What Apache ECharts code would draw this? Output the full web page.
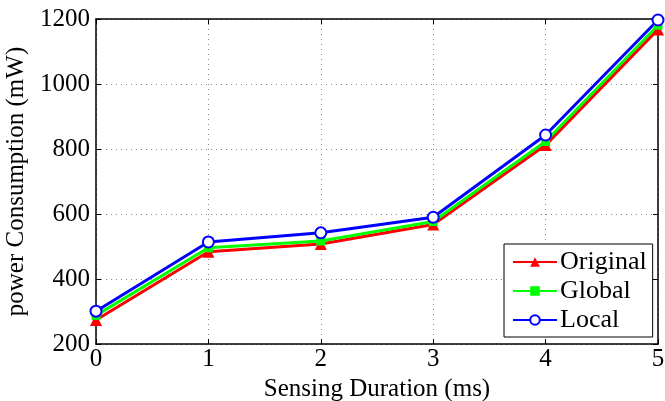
<!DOCTYPE html>
<html>
<head>
<meta charset="utf-8">
<script src="https://cdn.jsdelivr.net/npm/echarts@6/dist/echarts.min.js"></script>
<style>
  html, body { margin: 0; padding: 0; background: #fff; }
  #main { width: 665px; height: 401px; }
</style>
</head>
<body>
<div id="main"></div>
<script>
// sensing duration (ms)
var durations = [0, 1, 2, 3, 4, 5];
// power consumption (mW)
var original = [274, 484, 508, 568, 812, 1168];
var globalVals = [288, 496, 517, 577, 823, 1181];
var localVals = [301, 514, 542, 590, 843, 1197];

var font = 'Liberation Serif';

function pairs(vals) {
	return durations.map(function(d, i) { return [d, vals[i]]; });
}

var chart = echarts.init(document.getElementById('main'));

var gridLine = { show: true, lineStyle: { color: '#888', type: [1, 4], width: 1 } };

chart.setOption({
	animation: false,
	grid: { left: 96, right: 7, top: 19, bottom: 57, outerBoundsMode: 'none', containLabel: false },
	xAxis: [{
		type: 'value', min: 0, max: 5, interval: 1,
		name: 'Sensing Duration (ms)', nameLocation: 'middle', nameGap: 29,
		nameTextStyle: { fontFamily: font, fontSize: 25, color: '#000' },
		axisLine: { lineStyle: { color: '#000', width: 1.5 } },
		axisTick: { inside: true, length: 5, lineStyle: { color: '#000' } },
		axisLabel: { fontFamily: font, fontSize: 25, color: '#000', margin: 3 },
		splitLine: gridLine
	}, {
		type: 'value', min: 0, max: 5, interval: 1, position: 'top',
		axisLine: { onZero: false, lineStyle: { color: '#000', width: 1.5 } },
		axisTick: { inside: true, length: 5, lineStyle: { color: '#000' } },
		axisLabel: { show: false }, splitLine: { show: false }
	}],
	yAxis: [{
		type: 'value', min: 200, max: 1200, interval: 200,
		name: 'power Consumption (mW)', nameLocation: 'middle', nameGap: 61,
		nameTextStyle: { fontFamily: font, fontSize: 25, color: '#000' },
		axisLine: { show: true, lineStyle: { color: '#000', width: 1.5 } },
		axisTick: { show: true, inside: true, length: 5, lineStyle: { color: '#000' } },
		axisLabel: { fontFamily: font, fontSize: 25, color: '#000', margin: 6,
			formatter: function(v) { return String(v); } },
		splitLine: gridLine
	}, {
		type: 'value', min: 200, max: 1200, interval: 200, position: 'right',
		axisLine: { show: true, onZero: false, lineStyle: { color: '#000', width: 1.5 } },
		axisTick: { show: true, inside: true, length: 5, lineStyle: { color: '#000' } },
		axisLabel: { show: false }, splitLine: { show: false }
	}],
	legend: {
		orient: 'vertical', left: 504, top: 244,
		padding: [5, 6, 4, 8], itemGap: 3, itemWidth: 44, itemHeight: 12,
		backgroundColor: '#fff', borderColor: '#000', borderWidth: 1,
		textStyle: { fontFamily: font, fontSize: 26, color: '#000', padding: [0, 0, 0, -2] },
		data: ['Original', 'Global', 'Local']
	},
	series: [{
		name: 'Original', type: 'line', data: pairs(original),
		symbol: 'triangle', symbolSize: 12,
		lineStyle: { color: '#ff0000', width: 3 }, itemStyle: { color: '#ff0000' }
	}, {
		name: 'Global', type: 'line', data: pairs(globalVals),
		symbol: 'rect', symbolSize: 9,
		lineStyle: { color: '#00ff00', width: 3 }, itemStyle: { color: '#00ff00' }
	}, {
		name: 'Local', type: 'line', data: pairs(localVals),
		symbol: 'emptyCircle', symbolSize: 11,
		lineStyle: { color: '#0000ff', width: 3 },
		itemStyle: { color: '#0000ff', borderWidth: 2.5 }
	}]
});
</script>
</body>
</html>
